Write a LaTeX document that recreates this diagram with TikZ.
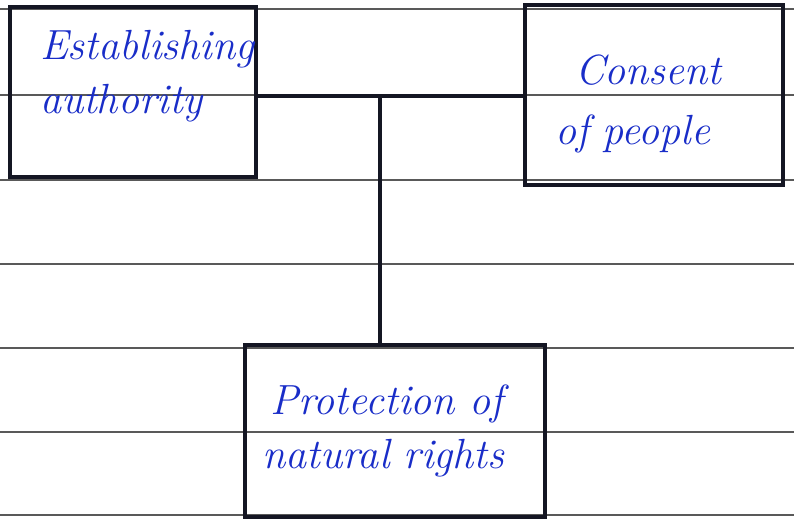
\documentclass[tikz,border=0pt]{standalone}
\usepackage{tikz}
\usepackage{xcolor}
\usetikzlibrary{positioning}
\definecolor{ink}{RGB}{25,45,200}
\definecolor{pen}{RGB}{20,22,35}
\tikzset{
	notebox/.style={
		draw=pen,
		line width=1.8pt,
		align=left,
		font=\fontsize{24}{31}\selectfont\itshape,
		text=ink
	},
	link/.style={pen,line width=1.8pt}
}

\begin{document}
\begin{tikzpicture}[x=0.02cm,y=-0.02cm]
	
	% ruled paper
	\useasboundingbox (0,0) rectangle (794,520);
	\foreach \ly in {9,95,180,264,348,432,515}
	\draw[gray!70!black,line width=0.6pt] (0,\ly) -- (794,\ly);
	
	% boxes
	\node[notebox,minimum width=4.92cm,minimum height=3.4cm,text width=3.72cm] (est) at (133,92) {Establishing\\authority\rule[-0.8cm]{0pt}{0.8cm}};
	\node[notebox,minimum width=5.16cm,minimum height=3.6cm,text width=3.96cm] (cons) at (654,95) {\rule{0pt}{0.95cm}\hspace*{0.4cm}Consent\\[0.1cm]of people};
	\node[notebox,minimum width=6cm,minimum height=3.44cm,text width=5.3cm] (prot) at (395,431) {\hspace*{0.16cm}Protection of\\natural rights};
	
	% connectors
	\coordinate (junc) at (380,96);
	\draw[link] (est.east |- junc) -- (cons.west |- junc);
	\draw[link] (junc) -- (prot.north -| junc);

\end{tikzpicture}
\end{document}
